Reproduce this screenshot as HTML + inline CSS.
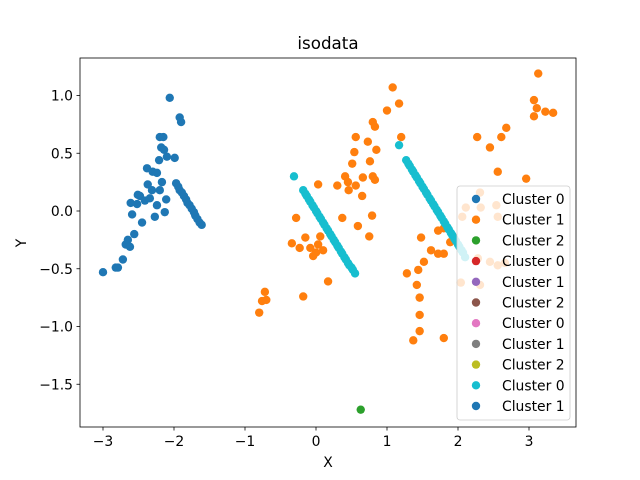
<!DOCTYPE html>
<html><head><meta charset="utf-8"><style>body{margin:0;background:#fff}svg{display:block;font-family:"DejaVu Sans","Liberation Sans",sans-serif}</style></head>
<body>
<svg id="chart" width="640" height="480">
<rect width="640" height="480" fill="#fff"/>
<text x="328" y="49" font-size="16.7" text-anchor="middle">isodata</text>
<g id="marks"></g>
<g id="axes"></g>
<text x="328" y="467" font-size="13.9" text-anchor="middle">X</text>
<text x="26" y="243" font-size="13.9" text-anchor="middle" transform="rotate(-90 26 243)">Y</text>
<g id="legend"></g>
</svg>
<script>
const blueX=[-3.0,-2.82,-2.79,-2.72,-2.68,-2.65,-2.62,-2.59,-2.61,-2.56,-2.52,-2.51,-2.48,-2.45,-2.41,-2.38,-2.37,-2.34,-2.31,-2.30,-2.27,-2.24,-2.21,-2.20,-2.15,-2.18,-2.14,-2.17,-2.10,-2.06,-1.99,-2.13,-2.11,-1.92,-1.90,-2.20,-2.24,-1.97,-1.94,-1.92,-1.89,-1.86,-1.83,-1.81,-1.78,-1.75,-1.72,-1.70,-1.67,-1.64,-1.61];
const blueY=[-0.53,-0.49,-0.49,-0.42,-0.29,-0.25,-0.31,-0.03,0.07,-0.20,0.06,0.14,0.13,-0.10,0.09,0.37,0.23,0.11,0.18,0.34,-0.05,0.33,0.44,0.64,0.64,0.55,0.53,0.25,0.47,0.98,0.46,-0.01,0.10,0.81,0.77,0.18,0.05,0.24,0.21,0.18,0.16,0.13,0.10,0.07,0.05,0.02,-0.01,-0.04,-0.07,-0.10,-0.12];
const orangeX=[1.08,1.17,1.0,0.83,0.80,0.73,0.85,1.2,0.56,0.54,0.51,0.76,0.41,0.45,0.66,0.80,0.83,0.56,0.30,0.03,0.46,0.65,0.37,0.79,0.59,0.75,-0.28,-0.15,-0.34,-0.23,0.03,0.10,-0.04,-0.08,0,0.06,-0.18,0.17,-0.70,-0.76,-0.8,-0.72,1.28,1.37,1.42,1.46,1.46,1.46,1.44,1.48,1.52,1.62,1.72,1.80,1.80,1.80,1.72,1.89,1.94,2.04,2.06,2.27,2.45,2.56,2.68,2.61,2.96,3.13,3.07,3.11,3.07,3.23,3.34,2.11,2.32,2.54,2.56,2.28,2.31,2.45,2.56,2.66,2.31];
const orangeY=[1.07,0.93,0.87,0.73,0.77,0.60,0.53,0.64,0.64,0.51,0.41,0.43,0.30,0.25,0.29,0.30,0.27,0.22,0.22,0.23,0.18,0.13,-0.06,-0.04,-0.13,-0.22,-0.06,-0.23,-0.28,-0.32,-0.29,-0.34,-0.39,-0.32,-0.36,-0.22,-0.74,-0.61,-0.77,-0.78,-0.88,-0.70,-0.54,-1.12,-0.64,-0.75,-0.90,-1.04,-0.51,-0.23,-0.44,-0.34,-0.37,-1.10,-0.37,-0.15,-0.17,-0.27,-0.23,-0.62,-0.05,0.64,0.55,0.34,0.72,0.64,0.28,1.19,0.96,0.89,0.82,0.86,0.85,0.03,0.03,0.05,-0.05,-0.41,-0.64,-0.44,-0.47,-0.45,0.16];
const greenX=[0.63];
const greenY=[-1.72];
const cyanX=[-0.31,-0.18,-0.15,-0.13,-0.10,-0.08,-0.05,-0.03,0.0,0.02,0.05,0.07,0.10,0.12,0.15,0.17,0.20,0.22,0.25,0.27,0.30,0.32,0.35,0.37,0.40,0.42,0.45,0.47,0.50,0.52,0.55,1.17,1.27,1.30,1.32,1.35,1.37,1.40,1.42,1.45,1.47,1.50,1.52,1.55,1.57,1.60,1.62,1.65,1.67,1.70,1.72,1.75,1.77,1.80,1.82,1.85,1.87,1.90,1.92,1.95,1.97,2.00,2.02,2.05,2.07,2.10];
const cyanY=[0.30,0.18,0.15,0.13,0.10,0.08,0.05,0.03,0.0,-0.02,-0.05,-0.07,-0.10,-0.12,-0.15,-0.17,-0.20,-0.22,-0.25,-0.27,-0.30,-0.32,-0.35,-0.37,-0.40,-0.42,-0.45,-0.47,-0.49,-0.51,-0.54,0.57,0.44,0.41,0.39,0.36,0.34,0.31,0.29,0.26,0.24,0.21,0.19,0.16,0.14,0.11,0.09,0.06,0.04,0.01,-0.01,-0.04,-0.06,-0.09,-0.11,-0.14,-0.16,-0.19,-0.21,-0.24,-0.26,-0.29,-0.31,-0.34,-0.36,-0.40];
const xTicks=[-3,-2,-1,0,1,2,3];
const xTickLabels=["−3","−2","−1","0","1","2","3"];
const yTicks=[1.0,0.5,0.0,-0.5,-1.0,-1.5];
const yTickLabels=["1.0","0.5","0.0","−0.5","−1.0","−1.5"];
const legendLabels=["Cluster 0","Cluster 1","Cluster 2","Cluster 0","Cluster 1","Cluster 2","Cluster 0","Cluster 1","Cluster 2","Cluster 0","Cluster 1"];
const legendColors=["#1f77b4","#ff7f0e","#2ca02c","#d62728","#9467bd","#8c564b","#e377c2","#7f7f7f","#bcbd22","#17becf","#1f77b4"];
const NS="http://www.w3.org/2000/svg";
const L=80,R=576,T=58,B=427;
function sx(v){return 316+71*v;}
function sy(v){return 211-115.5*v;}
function mk(tag,attrs,parent){const e=document.createElementNS(NS,tag);for(const k in attrs)e.setAttribute(k,attrs[k]);parent.appendChild(e);return e;}
const marks=document.getElementById('marks');
function series(xs,ys,color,name){for(let i=0;i<xs.length;i++){const c=mk('circle',{cx:sx(xs[i]),cy:sy(ys[i]),r:4.2,fill:color},marks);

}}
series(blueX,blueY,'#1f77b4','cluster-blue');
series(orangeX,orangeY,'#ff7f0e','cluster-orange');
series(greenX,greenY,'#2ca02c','cluster-green');
series(cyanX,cyanY,'#17becf','cluster-cyan');
const axes=document.getElementById('axes');
const frame=mk('rect',{x:L,y:T,width:R-L,height:B-T,fill:'none',stroke:'#000','stroke-width':0.8},axes);


xTicks.forEach((v,i)=>{const x=sx(v);mk('line',{x1:x,x2:x,y1:B,y2:B+3.5,stroke:'#000','stroke-width':0.8},axes);
const t=mk('text',{x:x,y:B+19,'font-size':13.9,'text-anchor':'middle'},axes);t.textContent=xTickLabels[i];

});
yTicks.forEach((v,i)=>{const y=sy(v);mk('line',{x1:L-3.5,x2:L,y1:y,y2:y,stroke:'#000','stroke-width':0.8},axes);
const t=mk('text',{x:L-7,y:y+5,'font-size':13.9,'text-anchor':'end'},axes);t.textContent=yTickLabels[i];

});
const lg=document.getElementById('legend');


mk('rect',{x:457,y:186,width:113,height:234,rx:3,fill:'#fff','fill-opacity':0.8,stroke:'#ccc','stroke-width':0.8},lg);
legendLabels.forEach((lab,i)=>{const y=199+20.7*i;
const g=mk('g',{},lg);


mk('circle',{cx:476,cy:y,r:4.2,fill:legendColors[i]},g);
const t=mk('text',{x:502,y:y+5,'font-size':13.9},g);t.textContent=lab;});
</script>
</body></html>
